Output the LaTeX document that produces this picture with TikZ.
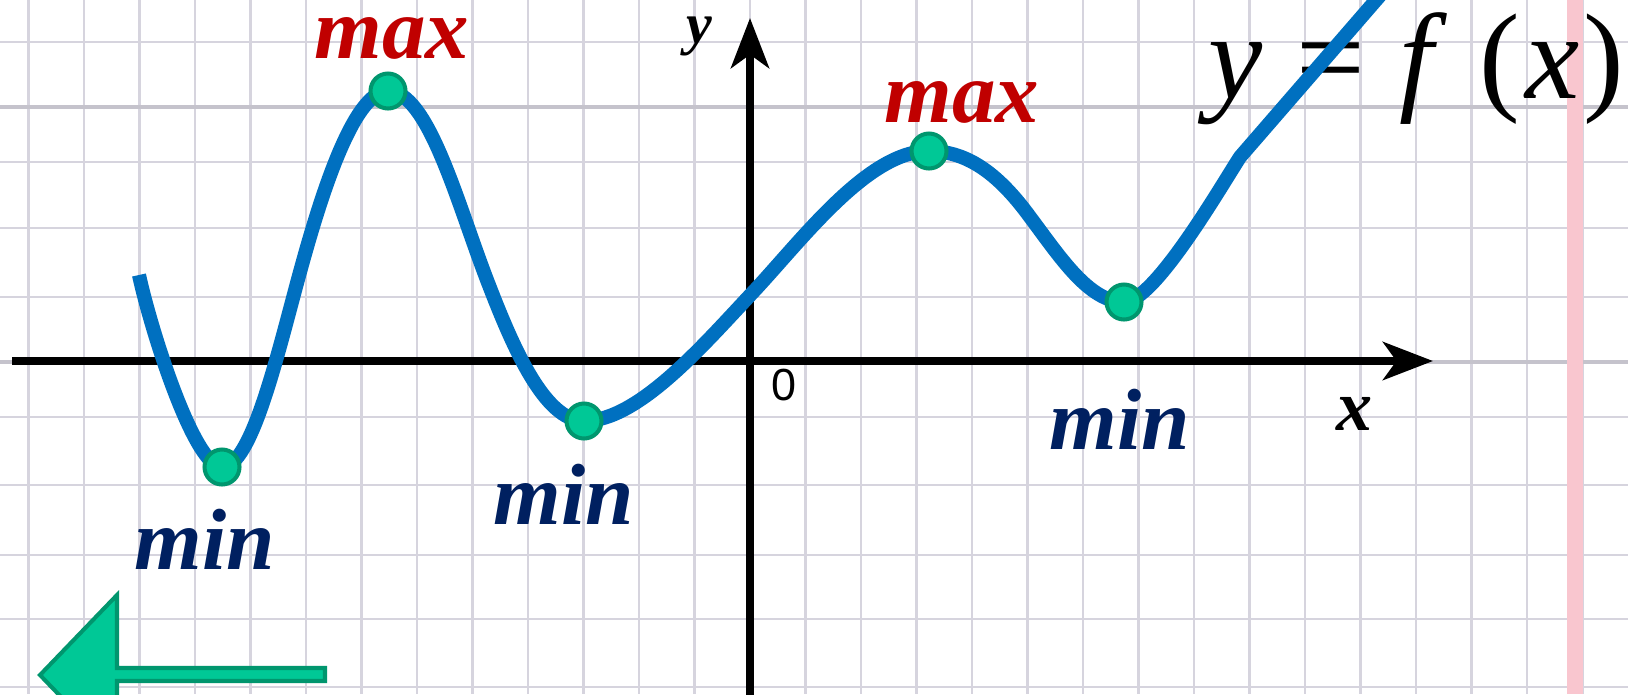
\documentclass[tikz,border=0pt]{standalone}
\usepackage{fontspec}
\setmainfont{Liberation Serif}
\newfontfamily\arialfont{Liberation Sans}
\usetikzlibrary{arrows.meta}
\definecolor{curveblue}{HTML}{0070C0}
\definecolor{maxred}{HTML}{C00000}
\definecolor{minnavy}{HTML}{002060}
\definecolor{dotfill}{HTML}{00C896}
\definecolor{dotrim}{HTML}{00966E}
\definecolor{gridgray}{HTML}{D6D4DE}
\definecolor{marginpink}{HTML}{F9C6CF}

\begin{document}
\begin{tikzpicture}[x=0.02cm, y=-0.02cm,
  gridline/.style={gridgray, line width=1.2pt},
  boldgrid/.style={gridgray!92!black, line width=2.4pt},
  axis/.style={line width=4.6pt, -{Stealth[length=1cm, width=0.76cm, inset=0.27cm]}},
  graph/.style={curveblue, line width=8pt, line join=round, line cap=butt},
  extremum/.style={circle, draw=dotrim, fill=dotfill, line width=2.3pt, minimum size=0.7cm, inner sep=0pt},
  maxlabel/.style={anchor=base, inner sep=0pt, text=maxred, font=\fontsize{49.5}{50}\selectfont\bfseries\itshape},
  minlabel/.style={anchor=base, inner sep=0pt, text=minnavy, font=\fontsize{49.5}{50}\selectfont\bfseries\itshape},
  axislabel/.style={anchor=base, inner sep=0pt, font=\bfseries\itshape},
  backarrow/.style={draw=dotrim, fill=dotfill, line width=2.3pt, line join=miter}
]
  \useasboundingbox (0,0) rectangle (1628,694);
  \clip (0,0) rectangle (1628,694);
  \fill[white] (0,0) rectangle (1628,694);

  \foreach \k in {-13,...,15}
    \draw[gridline] ({750+55.5*\k},0) -- ({750+55.5*\k},694);
  \foreach \yy in {42,162,228,297,417,485,555,619,687}
    \draw[gridline] (0,\yy) -- (1628,\yy);
  \foreach \yy in {107,362}
    \draw[boldgrid] (0,\yy) -- (1628,\yy);
  \draw[marginpink, line width=9pt] (1575,0) -- (1575,694);

  \node[anchor=base west, inner sep=0pt, font=\fontsize{69.4}{70}\selectfont] (fx) at (1208,98)
    {\textit{y}\hspace{0.28em}=\hspace{0.28em}\textit{f}\hspace{0.26em}(\hspace{0.05em}\textit{x}\hspace{0.03em})};

  \draw[axis] (12,361) -- (1433,361);
  \draw[axis] (750,700) -- (750,18);
  \node[axislabel, font=\fontsize{41}{42}\selectfont\bfseries\itshape] (xlab) at (1354,430) {x};
  \node[axislabel, font=\fontsize{33}{34}\selectfont\bfseries\itshape] (ylab) at (699,43) {y};
  \node[anchor=base, inner sep=0pt, font=\arialfont\fontsize{25.6}{26}\selectfont] (orig) at (783.5,400) {0};

  \coordinate (pmn1) at (222,467);
  \coordinate (pmx1) at (388,91);
  \coordinate (pmn2) at (584,421);
  \coordinate (pmx2) at (929,151);
  \coordinate (pmn3) at (1124,302);

  \draw[graph] (139,275) .. controls (151,330) and (194,467) .. (pmn1)
    .. controls (252,467) and (278,352) .. (300,272)
    .. controls (320,199) and (353,91) .. (pmx1)
    .. controls (428,91) and (457,202) .. (487,280)
    .. controls (512,345) and (544,421) .. (pmn2)
    .. controls (639,421) and (705,343) .. (755,290)
    .. controls (805,236) and (869,151) .. (pmx2)
    .. controls (969,151) and (1000,176) .. (1030,217)
    .. controls (1060,257) and (1089,302) .. (pmn3)
    .. controls (1154,302) and (1220,188) .. (1240,157)
    -- (1403,-31);

  \node[extremum] (mn1) at (pmn1) {};
  \node[extremum] (mx1) at (pmx1) {};
  \node[extremum] (mn2) at (pmn2) {};
  \node[extremum] (mx2) at (pmx2) {};
  \node[extremum] (mn3) at (pmn3) {};

  \node[maxlabel] (lmx1) at (392,58) {max};
  \node[maxlabel] (lmx2) at (962,122) {max};
  \node[minlabel] (lmn1) at (205,569) {min};
  \node[minlabel] (lmn2) at (564,524) {min};
  \node[minlabel] (lmn3) at (1120,449) {min};

  \filldraw[backarrow] (40,675) -- (117,595) -- (117,668) -- (325,668) -- (325,681) -- (117,681) -- (117,755) -- cycle;
\end{tikzpicture}
\end{document}
